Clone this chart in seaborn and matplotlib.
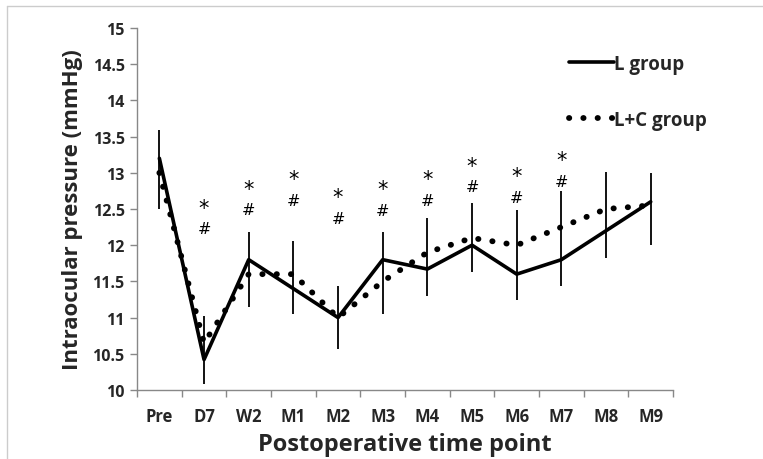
import matplotlib
matplotlib.use("Agg")
import matplotlib.pyplot as plt
from matplotlib.lines import Line2D
import seaborn as sns
import pandas as pd
import numpy as np

categories = ["Pre", "D7", "W2", "M1", "M2", "M3", "M4", "M5", "M6", "M7", "M8", "M9"]
l_group = [13.2, 10.42, 11.8, 11.4, 11.0, 11.8, 11.67, 12.0, 11.6, 11.8, 12.2, 12.6]
lc_group = [13.0, 10.65, 11.6, 11.6, 11.0, 11.5, 11.9, 12.1, 12.0, 12.25, 12.5, 12.55]
err_top = [13.59, 11.02, 12.18, 12.06, 11.44, 12.18, 12.38, 12.58, 12.49, 12.75, 13.01, 13.0]
err_bottom = [12.5, 10.08, 11.15, 11.05, 10.57, 11.05, 11.30, 11.63, 11.24, 11.44, 11.82, 12.0]
sig_labels = ["D7", "W2", "M1", "M2", "M3", "M4", "M5", "M6", "M7"]
star_y = [12.50, 12.76, 12.89, 12.64, 12.75, 12.89, 13.08, 12.93, 13.15]

sns.set_theme(style="white")
plt.rcParams["font.family"] = ["Open Sans", "DejaVu Sans"]

df = pd.DataFrame({
    "time": categories * 2,
    "iop": l_group + lc_group,
    "group": ["L group"] * len(categories) + ["L+C group"] * len(categories),
})
df["x"] = df["time"].map({c: i for i, c in enumerate(categories)})

fig = plt.figure(figsize=(7.63, 4.60), dpi=100)
ax = fig.add_axes([0.1796, 0.15, 0.7025, 0.787])

sns.lineplot(data=df[df["group"] == "L group"], x="x", y="iop", color="black",
             linewidth=2.6, ax=ax, legend=False, errorbar=None)
sns.lineplot(data=df[df["group"] == "L+C group"], x="x", y="iop", color="black",
             linewidth=4.2, ax=ax, legend=False, errorbar=None)
ax.lines[1].set_linestyle((0, (0.05, 2.4)))
ax.lines[1].set_dash_capstyle("round")

xs = np.arange(len(categories))
ax.vlines(xs, err_bottom, err_top, color="black", linewidth=1.3)

for lab, sy in zip(sig_labels, star_y):
    xi = categories.index(lab)
    ax.text(xi, sy + 0.02, "*", ha="center", va="center", fontsize=15,
            family="DejaVu Sans", color="black")
    ax.text(xi, sy - 0.27, "#", ha="center", va="center", fontsize=11.5,
            family="DejaVu Sans", color="black")

ax.set_xlim(-0.5, len(categories) - 0.5)
ax.set_ylim(10, 15)
yt = np.arange(10, 15.01, 0.5)
ax.set_yticks(yt)
ax.set_yticklabels([f"{v:g}" for v in yt], fontweight="bold", fontsize=11.5)
ax.set_xticks(xs)
ax.set_xticklabels(categories, fontweight="bold", fontsize=12)
ax.set_xticks(np.arange(-0.5, len(categories), 1.0), minor=True)
ax.tick_params(axis="x", which="major", length=0, pad=12)
ax.tick_params(axis="x", which="minor", length=5, color="#888888", width=1, direction="out", bottom=True)
ax.tick_params(axis="y", which="major", length=5, color="#888888", width=1, direction="out", left=True, pad=4)

for s in ["top", "right"]:
    ax.spines[s].set_visible(False)
for s in ["left", "bottom"]:
    ax.spines[s].set_color("#888888")
    ax.spines[s].set_linewidth(1)

ax.set_xlabel("Postoperative time point", fontweight="bold", fontsize=17, labelpad=5)
ax.set_ylabel("Intraocular pressure (mmHg)", fontweight="bold", fontsize=16, labelpad=7)

h1 = Line2D([], [], color="black", linewidth=2.6)
h2 = Line2D([], [], color="black", linewidth=4.2, linestyle=(0, (0.05, 2.4)),
            dash_capstyle="round")
leg = ax.legend([h1, h2], ["L group", "L+C group"], loc="upper left",
                bbox_to_anchor=(0.775, 0.975), frameon=False, handlelength=2.4,
                handletextpad=0.0, labelspacing=1.9,
                prop={"weight": "bold", "size": 13.5, "family": "Open Sans"})

fig.add_artist(Line2D([7 / 763, 1], [1 - 7 / 460, 1 - 7 / 460], transform=fig.transFigure,
                      color="#cccccc", linewidth=1))
fig.add_artist(Line2D([7 / 763, 7 / 763], [0, 1 - 7 / 460], transform=fig.transFigure,
                      color="#cccccc", linewidth=1))

fig.savefig("out.png", dpi=100)
